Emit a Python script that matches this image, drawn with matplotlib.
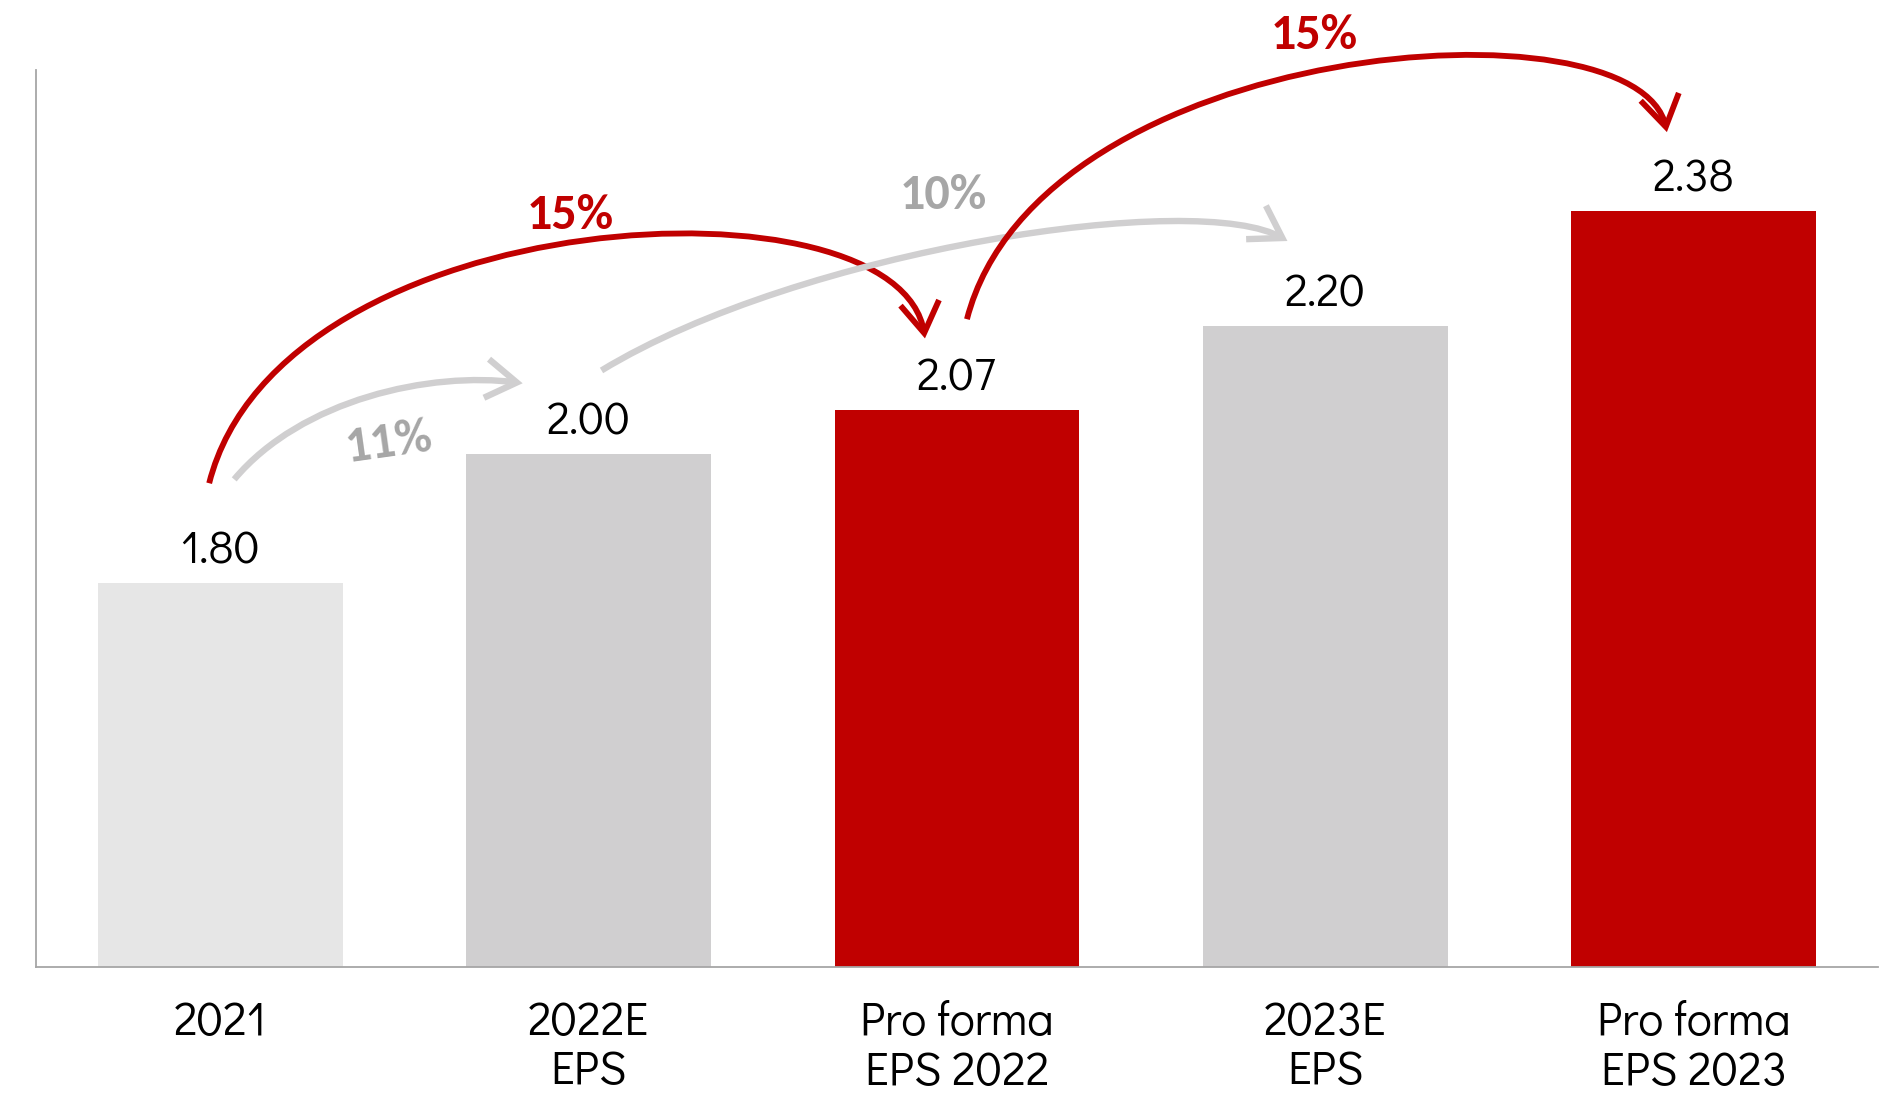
import matplotlib
matplotlib.use("Agg")
import matplotlib.pyplot as plt
from matplotlib import font_manager
from matplotlib.patches import FancyArrowPatch
from matplotlib.path import Path
import numpy as np

# -----------------------------
# Data
# -----------------------------
categories = ["2021", "2022E\nEPS", "Pro forma\nEPS 2022", "2023E\nEPS", "Pro forma\nEPS 2023"]
eps_values = [1.80, 2.00, 2.07, 2.20, 2.38]
value_labels = ["1.80", "2.00", "2.07", "2.20", "2.38"]

# growth arrows between bars
growth_from = [0, 0, 1, 2]
growth_to = [1, 2, 3, 4]
growth_labels = ["11%", "15%", "10%", "15%"]

# -----------------------------
# Styles
# -----------------------------
RED = "#C00000"
GREY_TXT = "#A6A6A6"
GREY_ARROW = "#D0CFD0"
bar_colors = ["#E6E6E6", "#D0CFD0", RED, "#D0CFD0", RED]

arrow_colors = [GREY_ARROW, RED, GREY_ARROW, RED]
label_colors = [GREY_TXT, RED, GREY_TXT, RED]
arrow_lw = [4.6, 4.2, 4.6, 4.2]

# offsets (data units) of start / end relative to bar tops, and bezier handles
start_off = [(0.038, 0.161), (-0.03, 0.155), (0.035, 0.131), (0.027, 0.141)]
end_off = [(-0.179, 0.111), (-0.087, 0.111), (-0.103, 0.133), (-0.073, 0.123)]
handle_a = [(0.182, 0.125), (0.195, 0.443), (0.54, 0.189), (0.198, 0.44)]
handle_b = [(-0.249, 0.019), (-0.067, 0.264), (-0.238, 0.081), (-0.076, 0.215)]
# label position: x relative to the "from" bar, y in data units
label_off = [(0.458, 2.019), (0.949, 2.373), (0.962, 2.405), (0.970, 2.655)]
label_rot = [8, 0, 0, 0]


def pick_font(names):
    available = {f.name for f in font_manager.fontManager.ttflist}
    for n in names:
        if n in available:
            return n
    return "DejaVu Sans"


BASE_FONT = pick_font(["Didact Gothic", "DejaVu Sans"])
PCT_FONT = pick_font(["Carlito", "Open Sans", "DejaVu Sans"])
plt.rcParams["font.family"] = [BASE_FONT, "DejaVu Sans"]


def curved_arrow(ax, p0, p1, p2, p3, color, lw):
    path = Path([p0, p1, p2, p3],
                [Path.MOVETO, Path.CURVE4, Path.CURVE4, Path.CURVE4])
    arrow = FancyArrowPatch(path=path,
                            arrowstyle="->,head_length=0.55,head_width=0.35",
                            mutation_scale=40, color=color, lw=lw,
                            shrinkA=0, shrinkB=0, clip_on=False,
                            capstyle="butt", joinstyle="miter")
    ax.add_patch(arrow)


# -----------------------------
# Plot
# -----------------------------
fig = plt.figure(figsize=(18.96, 10.93), dpi=100)
ax = fig.add_axes([0.019, 0.1153, 0.9715, 0.8207])

x = np.arange(len(eps_values))
ax.bar(x, eps_values, width=0.664, color=bar_colors, zorder=2)

ax.set_xlim(-0.5, 4.5)
ax.set_ylim(1.2, 2.6)

for xi, v, lab in zip(x, eps_values, value_labels):
    ax.annotate(lab, (xi, v), xytext=(0, 14), textcoords="offset points",
                ha="center", va="baseline", fontsize=33, color="black")

for i in range(len(growth_labels)):
    a, b = growth_from[i], growth_to[i]
    p0 = (a + start_off[i][0], eps_values[a] + start_off[i][1])
    p3 = (b + end_off[i][0], eps_values[b] + end_off[i][1])
    p1 = (p0[0] + handle_a[i][0], p0[1] + handle_a[i][1])
    p2 = (p3[0] + handle_b[i][0], p3[1] + handle_b[i][1])
    curved_arrow(ax, p0, p1, p2, p3, arrow_colors[i], arrow_lw[i])
    ax.text(a + label_off[i][0], label_off[i][1], growth_labels[i],
            ha="center", va="center", fontsize=36, fontweight="bold",
            family=[PCT_FONT, "DejaVu Sans"],
            color=label_colors[i], rotation=label_rot[i], clip_on=False)

ax.set_xticks(x)
ax.set_xticklabels(categories, fontsize=34, linespacing=1.18)
ax.tick_params(axis="x", length=0, pad=24)
ax.set_yticks([])

for s in ["top", "right"]:
    ax.spines[s].set_visible(False)
for s in ["left", "bottom"]:
    ax.spines[s].set_color("#A6A6A6")
    ax.spines[s].set_linewidth(1.3)

fig.savefig("out.png", dpi=100)
